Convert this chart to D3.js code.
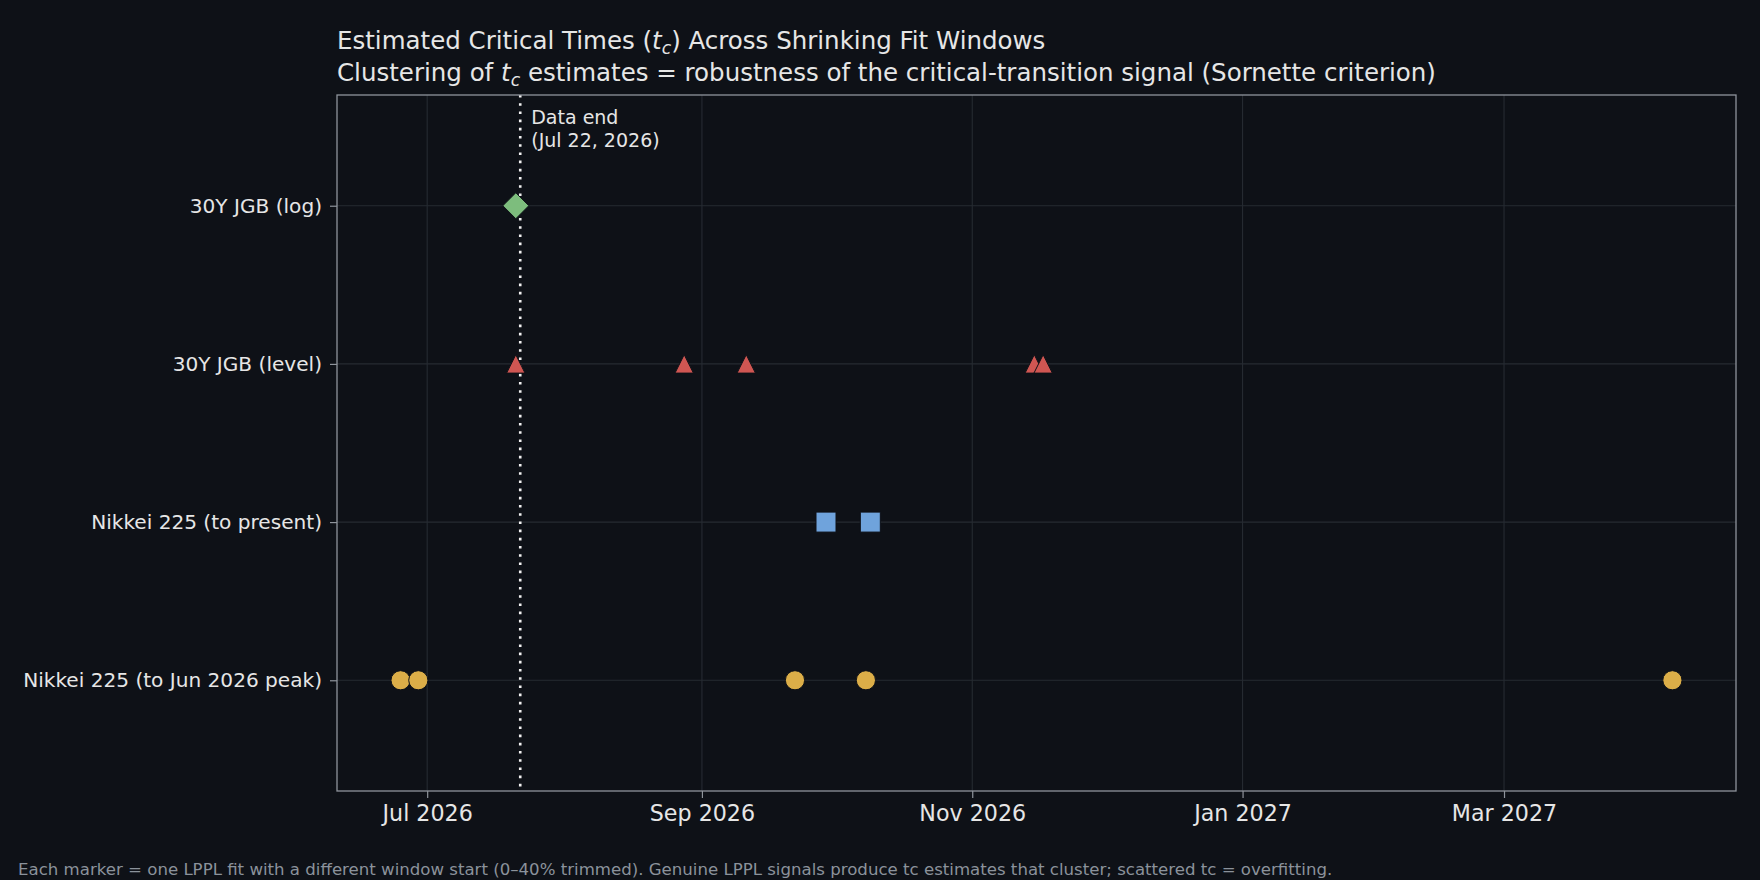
<!DOCTYPE html>
<html>
<head>
<meta charset="utf-8">
<script src="https://cdn.jsdelivr.net/npm/d3@7"></script>
<style>
html,body{margin:0;padding:0;background:#0e1117;}
svg{display:block;}
text{font-family:"DejaVu Sans",sans-serif;}
</style>
</head>
<body>
<svg id="chart" width="1760" height="880"></svg>
<script>
// ---- data ----
const categories = [
  "Nikkei 225 (to Jun 2026 peak)",
  "Nikkei 225 (to present)",
  "30Y JGB (level)",
  "30Y JGB (log)"
];
const nikkeiPeakTc    = ["2026-06-25", "2026-06-29", "2026-09-22", "2026-10-08", "2027-04-08"];
const nikkeiPresentTc = ["2026-09-29", "2026-10-09"];
const jgbLevelTc      = ["2026-07-21", "2026-08-28", "2026-09-11", "2026-11-15", "2026-11-17"];
const jgbLogTc        = ["2026-07-21"];
const dataEnd = "2026-07-22";
const dataEndLabel = ["Data end", "(Jul 22, 2026)"];
const footerText = "Each marker = one LPPL fit with a different window start (0\u201340% trimmed). Genuine LPPL signals produce tc estimates that cluster; scattered tc = overfitting.";

// ---- styles ----
const bg = "#0e1117";
const textColor = "#e6e6e6";
const spineColor = "#8f949c";
const gridColor = "#262b32";
const seriesStyle = [
  {values: nikkeiPeakTc,    cat: 0, color: "#dcae48", shape: "circle"},
  {values: nikkeiPresentTc, cat: 1, color: "#6fa3dc", shape: "square"},
  {values: jgbLevelTc,      cat: 2, color: "#cf5652", shape: "triangle"},
  {values: jgbLogTc,        cat: 3, color: "#7dbd7d", shape: "diamond"}
];

const parse = d3.utcParse("%Y-%m-%d");
const W = 1760, H = 880;
const m = {left: 337, right: 1736, top: 95, bottom: 791};

const svg = d3.select("#chart");
svg.append("rect").attr("width", W).attr("height", H).attr("fill", bg);

const allDates = seriesStyle.flatMap(s => s.values.map(parse));
const ext = d3.extent(allDates);
const pad = (ext[1] - ext[0]) * 0.05;
const x = d3.scaleUtc()
  .domain([new Date(+ext[0] - pad), new Date(+ext[1] + pad)])
  .range([m.left, m.right]);
const y = d3.scaleLinear().domain([-0.7, 3.7]).range([m.bottom, m.top]);

const xTicks = x.ticks(d3.utcMonth.every(2));

// plot background
svg.append("rect").attr("x", m.left).attr("y", m.top)
  .attr("width", m.right - m.left).attr("height", m.bottom - m.top).attr("fill", bg);

// gridlines
const grid = svg.append("g");
grid.selectAll(".vg").data(xTicks).join("line")
  .attr("x1", d => x(d)).attr("x2", d => x(d))
  .attr("y1", m.top).attr("y2", m.bottom)
  .attr("stroke", gridColor).attr("stroke-width", 1.1);
grid.selectAll(".hg").data(d3.range(categories.length)).join("line")
  .attr("x1", m.left).attr("x2", m.right)
  .attr("y1", d => y(d)).attr("y2", d => y(d))
  .attr("stroke", gridColor).attr("stroke-width", 1.1);

// data-end line
const xe = x(parse(dataEnd));
svg.append("line")
  .attr("x1", xe).attr("x2", xe).attr("y1", m.top).attr("y2", m.bottom)
  .attr("stroke", "#f2f2f2").attr("stroke-width", 2.6)
  .attr("stroke-dasharray", "2.6,5.6");
const ann = svg.append("text").attr("fill", textColor).attr("font-size", 19);
dataEndLabel.forEach((t, i) => {
  ann.append("tspan").attr("x", xe + 11).attr("y", 124 + i * 22.5).text(t);
});

// axes
const xAxis = svg.append("g").attr("transform", `translate(0,${m.bottom})`)
  .call(d3.axisBottom(x).tickValues(xTicks).tickFormat(d3.utcFormat("%b %Y")).tickSize(7).tickPadding(6));
xAxis.select(".domain").remove();
xAxis.selectAll(".tick line").attr("stroke", spineColor).attr("stroke-width", 1.2);
xAxis.selectAll(".tick text").attr("fill", textColor).attr("font-size", 22.2)
  .attr("font-family", "DejaVu Sans").attr("dy", "0.75em");

const yAxis = svg.append("g").attr("transform", `translate(${m.left},0)`)
  .call(d3.axisLeft(y).tickValues(d3.range(categories.length)).tickFormat(i => categories[i]).tickSize(7).tickPadding(8));
yAxis.select(".domain").remove();
yAxis.selectAll(".tick line").attr("stroke", spineColor).attr("stroke-width", 1.2);
yAxis.selectAll(".tick text").attr("fill", textColor).attr("font-size", 20.1)
  .attr("font-family", "DejaVu Sans");

// spines
svg.append("rect").attr("x", m.left).attr("y", m.top)
  .attr("width", m.right - m.left).attr("height", m.bottom - m.top)
  .attr("fill", "none").attr("stroke", spineColor).attr("stroke-width", 1.3);

// markers
const shapes = {
  circle: {draw(ctx) { ctx.moveTo(9.6, 0); ctx.arc(0, 0, 9.6, 0, 2 * Math.PI); }},
  square: {draw(ctx) { const s = 10; ctx.moveTo(-s, -s); ctx.lineTo(s, -s); ctx.lineTo(s, s); ctx.lineTo(-s, s); ctx.closePath(); }},
  triangle: {draw(ctx) { const s = 9.2; ctx.moveTo(0, -s); ctx.lineTo(s, s); ctx.lineTo(-s, s); ctx.closePath(); }},
  diamond: {draw(ctx) { const s = 13; ctx.moveTo(0, -s); ctx.lineTo(s, 0); ctx.lineTo(0, s); ctx.lineTo(-s, 0); ctx.closePath(); }}
};
const markers = svg.append("g");
seriesStyle.forEach(s => {
  markers.append("g").selectAll("path").data(s.values).join("path")
    .attr("transform", d => `translate(${x(parse(d))},${y(s.cat)})`)
    .attr("d", d3.symbol().type(shapes[s.shape])())
    .attr("fill", s.color)
    .attr("stroke", bg).attr("stroke-width", 1);
});

// titles
const tfs = 24.5, sfs = 17.2;
const t1 = svg.append("text").attr("x", m.left).attr("y", 49).attr("fill", textColor).attr("font-size", tfs);
t1.append("tspan").text("Estimated Critical Times (");
t1.append("tspan").attr("font-style", "italic").text("t");
t1.append("tspan").attr("font-style", "italic").attr("font-size", sfs).attr("dy", 4.5).text("c");
t1.append("tspan").attr("dy", -4.5).text(") Across Shrinking Fit Windows");

const t2 = svg.append("text").attr("x", m.left).attr("y", 81).attr("fill", textColor).attr("font-size", tfs);
t2.append("tspan").text("Clustering of ");
t2.append("tspan").attr("font-style", "italic").text("t");
t2.append("tspan").attr("font-style", "italic").attr("font-size", sfs).attr("dy", 4.5).text("c");
t2.append("tspan").attr("dy", -4.5).text(" estimates = robustness of the critical-transition signal (Sornette criterion)");

// footer
svg.append("text").attr("x", 18).attr("y", 875).attr("fill", "#8b929b").attr("font-size", 16.6).text(footerText);
</script>
</body>
</html>
